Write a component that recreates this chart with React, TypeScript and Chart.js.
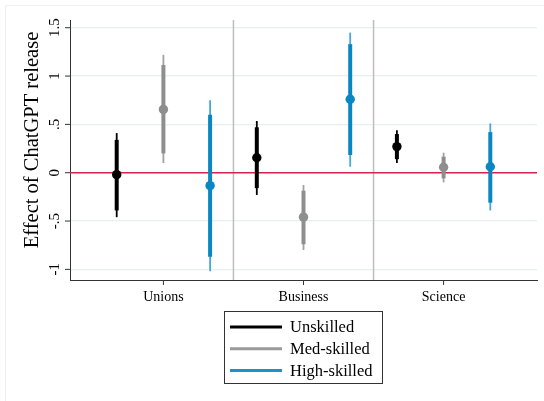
import React, { useEffect, useRef } from "react";
import { Chart, registerables } from "chart.js";

Chart.register(...registerables);

const categories = ["Unions", "Business", "Science"];
const seriesNames = ["Unskilled", "Med-skilled", "High-skilled"];

const unskilledPoint = [-0.02, 0.155, 0.27];
const unskilledLo95 = [-0.46, -0.23, 0.1];
const unskilledHi95 = [0.41, 0.535, 0.44];
const unskilledLo90 = [-0.39, -0.16, 0.14];
const unskilledHi90 = [0.34, 0.47, 0.4];

const medPoint = [0.655, -0.46, 0.056];
const medLo95 = [0.1, -0.8, -0.1];
const medHi95 = [1.22, -0.127, 0.207];
const medLo90 = [0.2, -0.74, -0.058];
const medHi90 = [1.115, -0.186, 0.166];

const highPoint = [-0.134, 0.76, 0.062];
const highLo95 = [-1.02, 0.062, -0.39];
const highHi95 = [0.75, 1.45, 0.51];
const highLo90 = [-0.87, 0.183, -0.31];
const highHi90 = [0.6, 1.33, 0.42];

const yTickValues = [-1, -0.5, 0, 0.5, 1, 1.5];
const yTickLabels = ["-1", "-.5", "0", ".5", "1", "1.5"];
const yTitle = "Effect of ChatGPT release";

const points = [unskilledPoint, medPoint, highPoint];
const lo95 = [unskilledLo95, medLo95, highLo95];
const hi95 = [unskilledHi95, medHi95, highHi95];
const lo90 = [unskilledLo90, medLo90, highLo90];
const hi90 = [unskilledHi90, medHi90, highHi90];

const colorsThick = ["#000000", "#8e8e8e", "#0a86c2"];
const colorsThin = ["#000000", "#a2a2a2", "#45a8d8"];
const legendColors = ["#000000", "#9a9a9a", "#1a93cc"];

const FONT = '"Liberation Serif", "Times New Roman", serif';

const xPos = (g: number, s: number) => g * 3 + s + 1;

const decorPlugin = {
  id: "decor",
  beforeDatasetsDraw(chart: any) {
    const ctx = chart.ctx;
    const xs = chart.scales.x;
    const ys = chart.scales.y;
    const area = chart.chartArea;
    ctx.save();
    // separators
    ctx.strokeStyle = "#bdbdbd";
    ctx.lineWidth = 1.5;
    for (let g = 1; g < categories.length; g++) {
      const px = xs.getPixelForValue(g * 3 + 0.5);
      ctx.beginPath();
      ctx.moveTo(px, area.top);
      ctx.lineTo(px, area.bottom);
      ctx.stroke();
    }
    // zero line
    const y0 = ys.getPixelForValue(0);
    ctx.strokeStyle = "#d4244e";
    ctx.lineWidth = 1.5;
    ctx.beginPath();
    ctx.moveTo(area.left, y0);
    ctx.lineTo(area.right, y0);
    ctx.stroke();
    // error bars
    for (let s = 0; s < seriesNames.length; s++) {
      for (let g = 0; g < categories.length; g++) {
        const px = xs.getPixelForValue(xPos(g, s));
        ctx.strokeStyle = colorsThin[s];
        ctx.lineWidth = 1.8;
        ctx.beginPath();
        ctx.moveTo(px, ys.getPixelForValue(lo95[s][g]));
        ctx.lineTo(px, ys.getPixelForValue(hi95[s][g]));
        ctx.stroke();
        ctx.strokeStyle = colorsThick[s];
        ctx.lineWidth = 4;
        ctx.beginPath();
        ctx.moveTo(px, ys.getPixelForValue(lo90[s][g]));
        ctx.lineTo(px, ys.getPixelForValue(hi90[s][g]));
        ctx.stroke();
      }
    }
    ctx.restore();
  },
  afterDraw(chart: any) {
    const ctx = chart.ctx;
    const xs = chart.scales.x;
    const ys = chart.scales.y;
    const area = chart.chartArea;
    ctx.save();
    // faint outer frame
    ctx.strokeStyle = "#efefef";
    ctx.lineWidth = 1;
    ctx.strokeRect(5.5, 5.5, 700, 700);
    // y ticks and labels
    ctx.strokeStyle = "#333";
    ctx.lineWidth = 1;
    ctx.fillStyle = "#000";
    ctx.font = "15px " + FONT;
    ctx.textAlign = "center";
    ctx.textBaseline = "middle";
    yTickValues.forEach((v, i) => {
      const py = ys.getPixelForValue(v);
      ctx.beginPath();
      ctx.moveTo(area.left - 5, py);
      ctx.lineTo(area.left, py);
      ctx.stroke();
      ctx.save();
      ctx.translate(area.left - 15, py);
      ctx.rotate(-Math.PI / 2);
      ctx.fillText(yTickLabels[i], 0, 0);
      ctx.restore();
    });
    // y title
    ctx.save();
    ctx.font = "20.5px " + FONT;
    ctx.translate(33, 140);
    ctx.rotate(-Math.PI / 2);
    ctx.fillText(yTitle, 0, 0);
    ctx.restore();
    // x ticks and labels
    ctx.font = "14px " + FONT;
    categories.forEach((c, g) => {
      const px = xs.getPixelForValue(g * 3 + 2);
      ctx.beginPath();
      ctx.moveTo(px, area.bottom);
      ctx.lineTo(px, area.bottom + 5);
      ctx.stroke();
      ctx.fillText(c, px, area.bottom + 17);
    });
    // legend
    const bx = 224.5, by = 311.5, bw = 158, bh = 72;
    ctx.strokeStyle = "#333";
    ctx.lineWidth = 1;
    ctx.strokeRect(bx, by, bw, bh);
    ctx.font = "16.5px " + FONT;
    ctx.textAlign = "left";
    seriesNames.forEach((n, i) => {
      const ry = 327 + i * 21.7;
      ctx.strokeStyle = legendColors[i];
      ctx.lineWidth = 3;
      ctx.beginPath();
      ctx.moveTo(230, ry);
      ctx.lineTo(282, ry);
      ctx.stroke();
      ctx.fillStyle = "#000";
      ctx.fillText(n, 290, ry + 1);
    });
    ctx.restore();
  },
};

export default function App() {
  const ref = useRef<HTMLCanvasElement | null>(null);
  useEffect(() => {
    document.body.style.margin = "0";
    const canvas = ref.current;
    if (!canvas) return;
    const datasets = seriesNames.map((name, s) => ({
      label: name,
      data: categories.map((_, g) => ({ x: xPos(g, s), y: points[s][g] })),
      backgroundColor: colorsThick[s],
      borderColor: colorsThick[s],
      pointRadius: 4.7,
      pointBorderWidth: 0,
      showLine: false,
    }));
    const chart = new Chart(canvas, {
      type: "scatter",
      data: { datasets },
      plugins: [decorPlugin],
      options: {
        responsive: false,
        animation: false,
        events: [],
        layout: { padding: { top: 20, right: 7, left: 0, bottom: 0 } },
        plugins: { legend: { display: false }, tooltip: { enabled: false } },
        scales: {
          x: {
            type: "linear",
            min: 0,
            max: 10,
            ticks: { display: false },
            grid: { display: false },
            border: { display: true, color: "#333", width: 1 },
            afterFit: (s: any) => {
              s.height = 121;
            },
          },
          y: {
            type: "linear",
            min: -1.11,
            max: 1.58,
            ticks: { display: false },
            afterBuildTicks: (s: any) => {
              s.ticks = yTickValues.map((v) => ({ value: v }));
            },
            grid: { color: "#e7eff0", lineWidth: 1.2, drawTicks: false },
            border: { display: true, color: "#333", width: 1 },
            afterFit: (s: any) => {
              s.width = 70;
            },
          },
        },
      } as any,
    });
    return () => chart.destroy();
  }, []);
  return (
    <div style={{ width: 544, height: 401, background: "#fff" }}>
      <canvas ref={ref} width={544} height={401} style={{ display: "block" }} />
    </div>
  );
}
